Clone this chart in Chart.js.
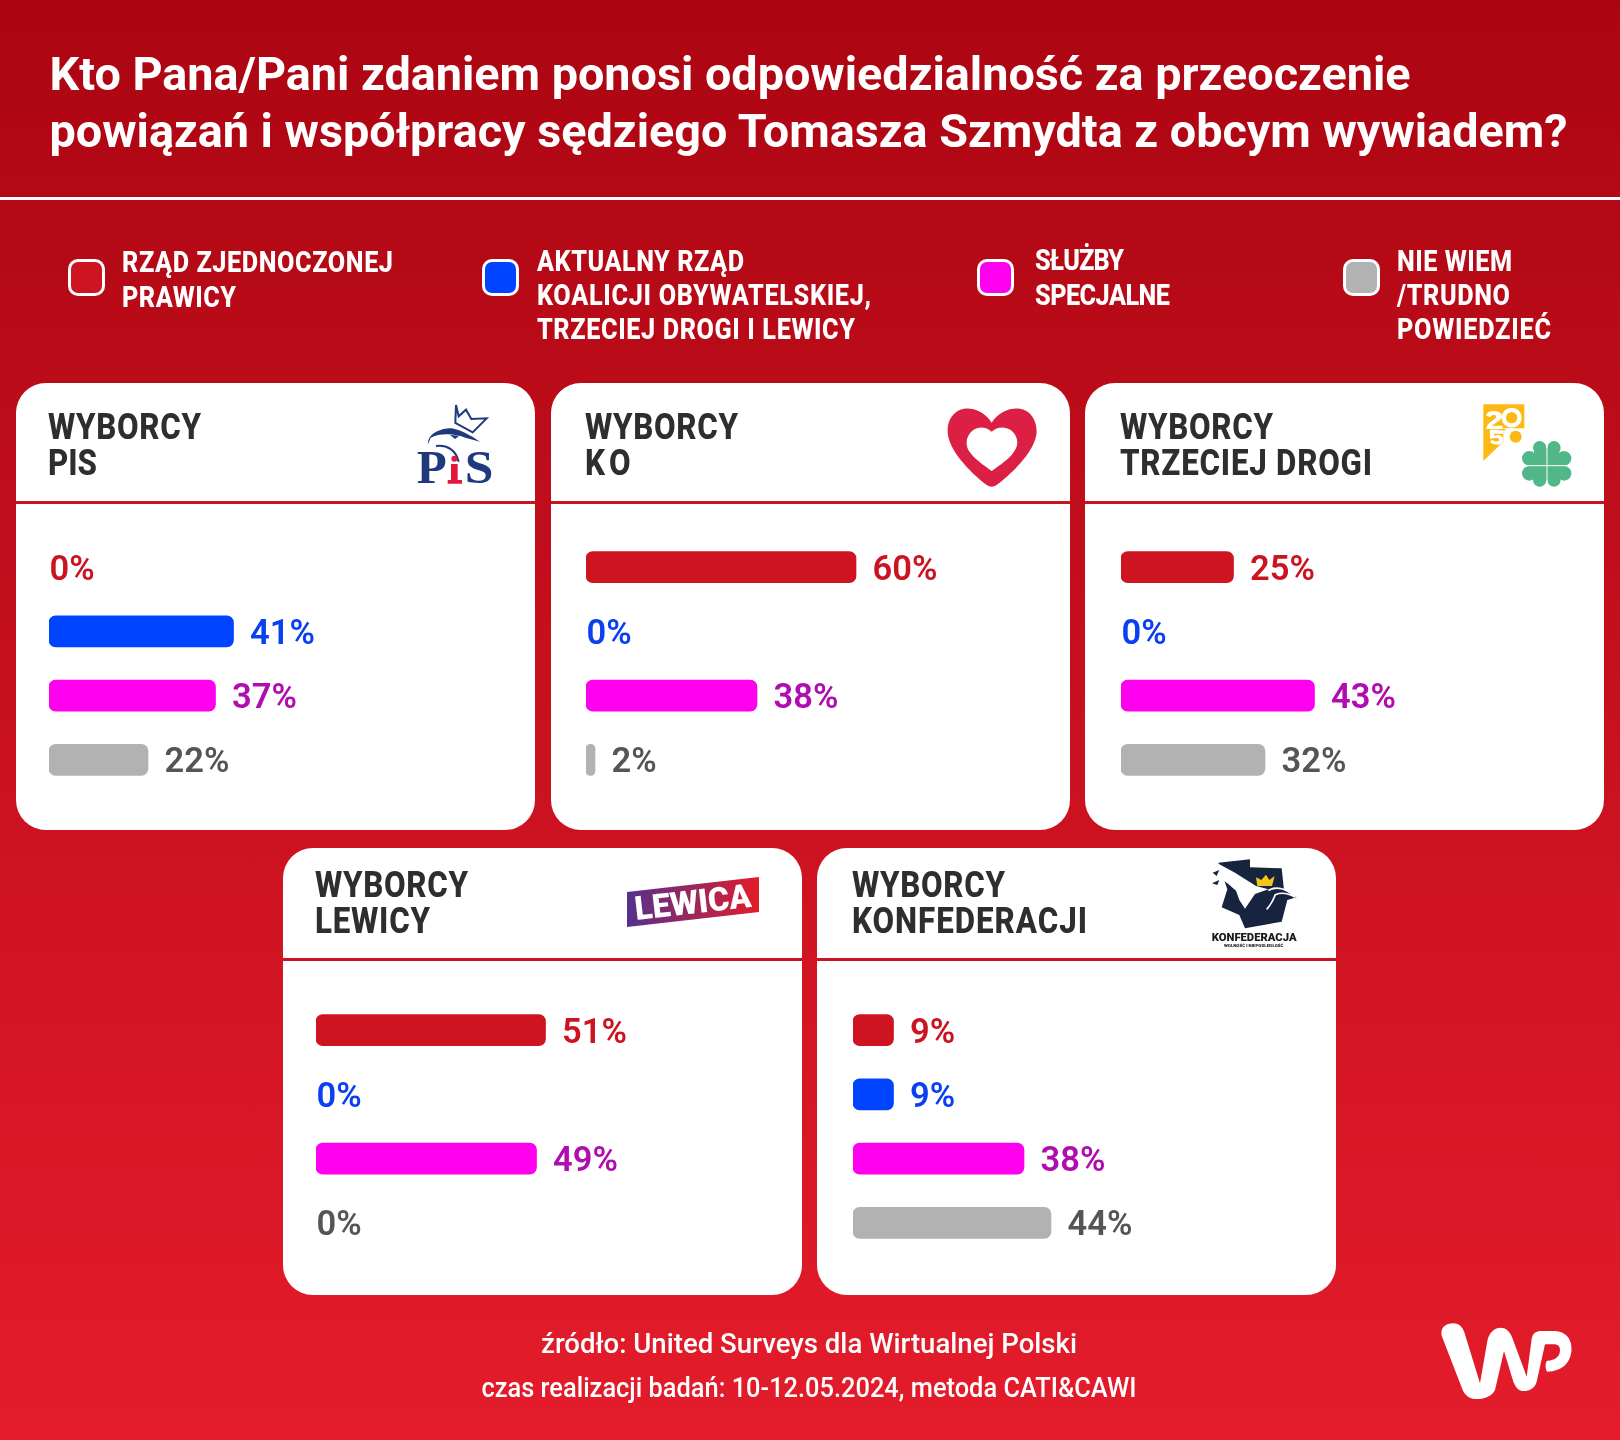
<!DOCTYPE html>
<html lang="pl"><head><meta charset="utf-8">
<script src="https://cdn.jsdelivr.net/npm/chart.js@4"></script>
<style>
html,body{margin:0;padding:0;background:#AC0512}
#page{position:relative;width:1620px;height:1440px;overflow:hidden;background:linear-gradient(180deg,#AC0512 0%,#E41C2B 100%);font-family:Roboto,sans-serif}
.card{position:absolute;width:519px;height:447px;background:#fff;border-radius:30px;overflow:hidden}
.card i{position:absolute;left:0;right:0;height:3px;background:#C81420}
#rule{position:absolute;left:0;top:197px;width:1620px;height:3px;background:#fff}
.sw{position:absolute;top:259px;width:37px;height:37px;box-sizing:border-box;border:3px solid #fff;border-radius:10px}
canvas{position:absolute}
svg{position:absolute;left:0;top:0;overflow:visible}
</style></head><body>
<div id="page"><div id="rule"></div><div id="cards"></div>
<svg id="ov" width="1620" height="1440" viewBox="0 0 1620 1440" font-family="Roboto, sans-serif"></svg></div>
<script>
const categories = ['RZĄD ZJEDNOCZONEJ PRAWICY','AKTUALNY RZĄD KOALICJI OBYWATELSKIEJ, TRZECIEJ DROGI I LEWICY','SŁUŻBY SPECJALNE','NIE WIEM /TRUDNO POWIEDZIEĆ'];
const valuesPis = [0,41,37,22];
const valuesKo = [60,0,38,2];
const valuesTrzeciaDroga = [25,0,43,32];
const valuesLewica = [51,0,49,0];
const valuesKonfederacja = [9,9,38,44];
const barColors = ['#CF1421','#0044FF','#FF00EE','#B2B2B2'];
const labelColors = ['#CB1420','#0A3FF2','#B00DB0','#555555'];
const cards = [
 {x:16,y:383,rule:118,bar:49,top:535,vals:valuesPis,t:[['WYBORCY',153],['PIS',49]]},
 {x:551,y:383,rule:118,bar:586,top:535,vals:valuesKo,t:[['WYBORCY',153],['KO',45.5]]},
 {x:1085,y:383,rule:118,bar:1121,top:535,vals:valuesTrzeciaDroga,t:[['WYBORCY',153],['TRZECIEJ DROGI',252]]},
 {x:283,y:848,rule:110,bar:316,top:998,vals:valuesLewica,t:[['WYBORCY',153],['LEWICY',115]]},
 {x:817,y:848,rule:110,bar:853,top:998,vals:valuesKonfederacja,t:[['WYBORCY',153],['KONFEDERACJI',235]]}
];
const ov=document.getElementById('ov'), NS='http://www.w3.org/2000/svg';
function txt(s,x,y,size,weight,fill,len,anchor){
  const t=document.createElementNS(NS,'text');t.textContent=s;
  t.setAttribute('x',x);t.setAttribute('y',y);t.setAttribute('font-size',size);t.setAttribute('font-weight',weight);t.setAttribute('fill',fill);
  if(len){t.setAttribute('textLength',len);t.setAttribute('lengthAdjust','spacingAndGlyphs');}
  if(anchor)t.setAttribute('text-anchor',anchor);
  ov.appendChild(t);return t;
}
// condensed text: narrowed glyphs, the remaining width goes to letter spacing
function cond(s,x,y,size,weight,fill,len,sx){
  const t=document.createElementNS(NS,'text');t.textContent=s;
  t.setAttribute('transform',`translate(${x},${y}) scale(${sx},1)`);t.setAttribute('font-size',size);t.setAttribute('font-weight',weight);t.setAttribute('fill',fill);
  t.setAttribute('textLength',len/sx);t.setAttribute('lengthAdjust','spacing');
  ov.appendChild(t);return t;
}
// header
txt('Kto Pana/Pani zdaniem ponosi odpowiedzialność za przeoczenie',49.5,90,47,700,'#fff',1361);
txt('powiązań i współpracy sędziego Tomasza Szmydta z obcym wywiadem?',49.5,147,47,700,'#fff',1518);
// legend
[[68,barColors[0]],[482,barColors[1]],[977,barColors[2]],[1343,barColors[3]]].forEach(([x,c])=>{
  const d=document.createElement('div');d.className='sw';d.style.left=x+'px';d.style.background=c;document.getElementById('page').appendChild(d);
});
[['RZĄD ZJEDNOCZONEJ',122,272,271],['PRAWICY',122,307,114],
 ['AKTUALNY RZĄD',537,271,207],['KOALICJI OBYWATELSKIEJ,',537,305,334],['TRZECIEJ DROGI I LEWICY',537,339,318],
 ['SŁUŻBY',1035,270,89],['SPECJALNE',1035,305,135],
 ['NIE WIEM',1397,271,115],['/TRUDNO',1397,305,113],['POWIEDZIEĆ',1397,339,154]
].forEach(([s,x,y,w])=>cond(s,x,y,29,800,'#fff',w,0.87));
// footer
txt('źródło: United Surveys dla Wirtualnej Polski',809,1353,27.5,500,'#fff',536,'middle');
txt('czas realizacji badań: 10-12.05.2024, metoda CATI&CAWI',809,1397,27.5,500,'#fff',655,'middle');

const valueLabels={id:'valueLabels',afterDatasetsDraw(c){
  const g=c.ctx,ds=c.data.datasets[0];
  g.save();g.font='600 34.5px Roboto';g.textBaseline='alphabetic';
  c.getDatasetMeta(0).data.forEach((el,i)=>{
    const v=ds.data[i];g.fillStyle=labelColors[i];
    g.fillText(v+'%',el.x+(v>0?16.5:0.5),el.y+12.5);
  });
  g.restore();
}};
cards.forEach(cd=>{
  const d=document.createElement('div');d.className='card';d.style.left=cd.x+'px';d.style.top=cd.y+'px';d.innerHTML=`<i style="top:${cd.rule}px"></i>`;
  document.getElementById('cards').appendChild(d);
  const cv=document.createElement('canvas');cv.width=450;cv.height=257;
  cv.style.cssText=`left:${cd.bar}px;top:${cd.top}px;width:450px;height:257px`;
  document.getElementById('page').insertBefore(cv,ov);
  new Chart(cv,{type:'bar',plugins:[valueLabels],data:{labels:categories,datasets:[{data:cd.vals,
     backgroundColor:cd.vals.map((v,i)=>v>0?barColors[i]:'rgba(0,0,0,0)'),barThickness:31,borderRadius:7,borderSkipped:false}]},
   options:{indexAxis:'y',responsive:false,animation:false,devicePixelRatio:1,layout:{padding:0},
    plugins:{legend:{display:false},tooltip:{enabled:false}},
    scales:{x:{display:false,min:0,max:100},y:{display:false}}}});
  const base=cd.y===383?[439,475]:[897,933];
  cd.t.forEach(([s,w],i)=>cond(s,cd.bar-1,base[i],36,800,'#2E2E2E',w,0.87));
});
// logos
function logo(x,y,w,h,vb,inner){
  const s=document.createElementNS(NS,'svg');s.setAttribute('x',x);s.setAttribute('y',y);s.setAttribute('width',w);s.setAttribute('height',h);s.setAttribute('viewBox',vb);
  s.innerHTML=inner;ov.appendChild(s);
}
logo(400,395,110,100,'0 0 330 300',`
 <path d="M168 30 L176 64 L198 44 L214 72 L260 70 L218 112 L166 84 Z" fill="none" stroke="#1F3A7C" stroke-width="6"/>
 <path d="M84 148 C82 118 118 100 155 100 C190 108 212 122 240 140 L196 128 C170 116 120 112 92 128 Z" fill="#1F3A7C"/>
 <path d="M108 153 C140 148 168 165 176 200" fill="none" stroke="#1F3A7C" stroke-width="6"/>
 <path d="M150 120 L178 122 L165 132 Z" fill="#1F3A7C"/>
 <text x="50" y="265" font-family="Liberation Serif, serif" font-weight="700" font-size="142" fill="#1F3A7C" textLength="90" lengthAdjust="spacingAndGlyphs">P</text>
 <circle cx="163" cy="191" r="9" fill="#E3183A"/>
 <path d="M153 207 H173 V255 H186 V266 H143 V255 H153 Z" fill="#E3183A"/>
 <text x="194" y="265" font-family="Liberation Serif, serif" font-weight="700" font-size="142" fill="#1F3A7C" textLength="86" lengthAdjust="spacingAndGlyphs">S</text>`);
logo(940,400,110,95,'0 0 330 285',`
 <path fill-rule="evenodd" fill="#DC1F44" d="M155 68 C135 35 100 22 72 26 C35 32 18 70 24 105 C32 160 100 225 140 255 Q155 265 170 255 C210 225 280 160 289 105 C294 70 277 32 240 26 C212 22 175 35 155 68Z M155 95 C140 80 115 78 100 90 C80 105 75 130 85 150 C100 175 130 195 155 213 C180 195 212 175 225 150 C238 130 232 105 212 90 C195 78 170 80 155 95Z"/>`);
logo(1470,395,110,100,'0 0 330 300',`
 <path d="M40 28 H163 V100 H100 V140 L40 198 Z" fill="#FDB913"/>
 <path d="M48 62 C50 44 92 42 96 62 C98 76 76 82 66 92 H98 V102 H48 C50 80 80 76 78 64 C76 56 66 58 62 66 Z" fill="#fff"/>
 <circle cx="125" cy="68" r="30" fill="#fff"/><circle cx="125" cy="68" r="17" fill="#FDB913"/>
 <path d="M60 104 H100 V116 H72 V122 C90 116 104 126 100 138 C96 152 72 152 60 142 L66 134 C74 140 88 140 88 134 C88 128 72 128 60 132 Z" fill="#fff"/>
 <rect x="85" y="102" width="22" height="4" fill="#FDB913"/>
 <circle cx="137" cy="125" r="18" fill="#FDB913"/>
 <g fill="#52B788"><circle cx="209" cy="158" r="20"/><circle cx="252" cy="158" r="20"/><circle cx="178" cy="190" r="22"/><circle cx="282" cy="190" r="22"/><circle cx="178" cy="235" r="22"/><circle cx="282" cy="235" r="22"/><circle cx="209" cy="255" r="20"/><circle cx="252" cy="255" r="20"/><rect x="192" y="160" width="76" height="96"/><rect x="175" y="185" width="110" height="50"/></g>
 <path d="M231 140 V272 M155 212 H305" stroke="#fff" stroke-width="3"/>`);
ov.insertAdjacentHTML('beforeend',`<defs><linearGradient id="lw" x1="0" x2="1"><stop offset="0" stop-color="#55308D"/><stop offset="1" stop-color="#E31C2B"/></linearGradient></defs>
 <polygon points="627,892 759,877 759,912 627,927" fill="url(#lw)"/>
 <text transform="translate(636,920) rotate(-6.5)" font-weight="900" font-size="33" fill="#fff" textLength="117" lengthAdjust="spacingAndGlyphs">LEWICA</text>`);
logo(1200,850,110,105,'0 0 330 315',`
 <path d="M55 38 L150 28 V52 L245 55 L252 120 L290 142 L262 150 L245 215 L135 235 L118 195 L65 172 L82 118 Z" fill="#16243F"/>
 <path d="M50 38 L105 68 L168 108 L205 118 L165 132 L135 176 L118 150 L108 122 L85 102 L52 78 Z" fill="#fff"/>
 <path d="M205 122 C228 106 262 116 286 142 C262 128 240 128 226 134 C220 150 212 165 200 178" fill="none" stroke="#fff" stroke-width="5"/>
 <path d="M38 68 L58 60 L50 78 Z M36 100 L58 90 L52 105 Z" fill="#16243F"/>
 <path d="M168 82 L184 90 L198 74 L208 90 L224 78 L216 108 L172 108 Z" fill="#F5C518"/>
 <text x="35" y="272" font-weight="900" font-size="32" fill="#1A1A1A" textLength="255" lengthAdjust="spacingAndGlyphs">KONFEDERACJA</text>
 <text x="72" y="290" font-weight="900" font-size="11" fill="#1A1A1A" textLength="178" lengthAdjust="spacingAndGlyphs">WOLNOŚĆ I NIEPODLEGŁOŚĆ</text>`);
logo(1430,1315,150,95,'0 0 450 285',`
 <path fill="#fff" fill-rule="evenodd" d="M35 62 C30 35 50 25 70 25 C88 25 98 38 103 52 L150 205 L172 78 C178 50 195 38 212 38 C230 38 240 52 246 66 L290 185 L305 72 C308 55 318 48 335 48 L375 48 C410 50 428 75 424 110 C420 145 395 168 352 170 C345 165 345 140 352 137 C375 136 390 125 390 105 C390 92 382 88 370 88 L345 88 L320 200 C314 222 295 228 280 228 C265 228 256 215 250 200 L222 108 L195 225 C185 245 160 254 135 252 C115 250 105 240 98 225 Z"/>`);
</script></body></html>
